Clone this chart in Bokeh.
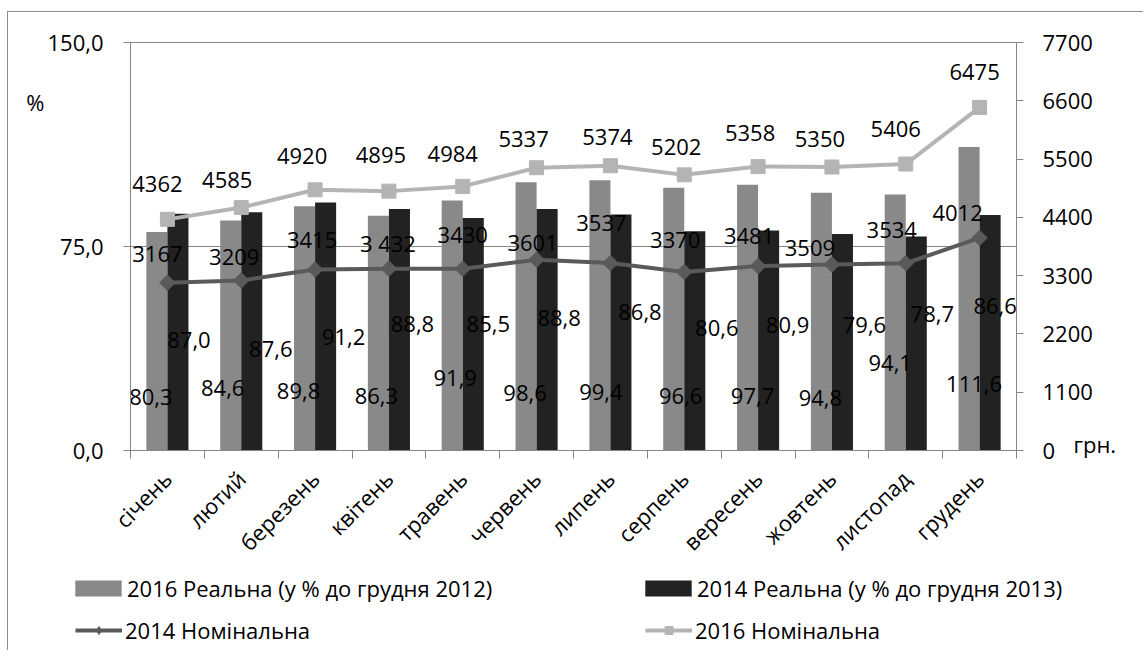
import numpy as np
from bokeh.plotting import figure
from bokeh.layouts import column
from bokeh.models import Range1d, LinearAxis, FixedTicker, Legend, LegendItem
from bokeh.core.properties import value
from bokeh.embed import file_html
from bokeh.resources import INLINE

# ---------------- data ----------------
months = ["січень", "лютий", "березень", "квітень", "травень", "червень",
          "липень", "серпень", "вересень", "жовтень", "листопад", "грудень"]
real_2016 = [80.3, 84.6, 89.8, 86.3, 91.9, 98.6, 99.4, 96.6, 97.7, 94.8, 94.1, 111.6]
real_2014 = [87.0, 87.6, 91.2, 88.8, 85.5, 88.8, 86.8, 80.6, 80.9, 79.6, 78.7, 86.6]
nom_2014 = [3167, 3209, 3415, 3432, 3430, 3601, 3537, 3370, 3481, 3509, 3534, 4012]
nom_2016 = [4362, 4585, 4920, 4895, 4984, 5337, 5374, 5202, 5358, 5350, 5406, 6475]
left_ticks = [0, 75, 150]
left_tick_labels = ["0,0", "75,0", "150,0"]
right_ticks = [0, 1100, 2200, 3300, 4400, 5500, 6600, 7700]
nom_2014_text = ["3167", "3209", "3415", "3 432", "3430", "3601", "3537", "3370", "3481", "3509", "3534", "4012"]
series_names = ["2016 Реальна (у % до грудня 2012)", "2014 Реальна (у % до грудня 2013)",
                "2014 Номінальна", "2016 Номінальна"]

# label placement offsets (screen px), as in the source chart
nom16_dx = [-10, -14, -13, -8, -10, -13, -3, -8, -8, -12, -10, -5]
nom16_dy = [-35, -28, -34, -36, -32, -29, -29, -28, -34, -28, -35, -35]
nom14_dx = [-10, -7, -3, -1, 0, -4, -9, -9, -9, -22, -14, -22]
nom14_dy = [-29, -23, -30, -26, -34, -17, -40, -32, -30, -17, -33, -25]
r16_dx = [-6, -8, -6, -2, 3, -1, 1, 7, 5, -1, -5, 5]
r16_dy = [-54, -63, -60, -55, -73, -58, -59, -55, -55, -53, -88, -67]
r14_dx = [11, 19, 18, 13, 15, 12, 19, 22, 19, 22, 16, 5]
r14_dy = [-111, -102, -114, -127, -127, -133, -139, -123, -126, -126, -137, -145]

FONT = "Open Sans"
FS = "22px"
AXC = "#868686"
GRAY_BAR = "#898989"
BLACK_BAR = "#222222"
LIGHT = "#b4b4b4"
DARK = "#5a5a5a"

n = len(months)
xc = np.arange(n, dtype=float)
bw = 0.285
off = 0.1425

p = figure(width=1135, height=558,
           x_range=Range1d(-0.5, n - 0.5), y_range=Range1d(0, 150),
           output_backend="svg", toolbar_location=None,
           min_border_left=122, min_border_right=127,
           min_border_top=30, min_border_bottom=120)
p.frame_align = False
p.extra_y_ranges = {"grn": Range1d(0, 7700)}
p.outline_line_color = AXC
p.background_fill_color = "white"
p.border_fill_color = "white"

# x axis
xa = p.xaxis[0]
xa.ticker = FixedTicker(ticks=list(range(n)), minor_ticks=[i - 0.5 for i in range(n + 1)])
xa.major_label_overrides = {i: m for i, m in enumerate(months)}
xa.major_label_orientation = np.pi / 4
xa.major_tick_out = 0
xa.major_tick_in = 0
xa.minor_tick_out = 8
xa.minor_tick_in = 0
xa.minor_tick_line_color = AXC
xa.axis_line_color = AXC
xa.major_label_text_font = FONT
xa.major_label_text_font_size = FS
xa.major_label_text_color = "black"
xa.major_label_standoff = 16

def style_axis(ax, standoff, tick_out=7):
    ax.minor_tick_line_color = None
    ax.major_tick_out = tick_out
    ax.major_tick_in = 0
    ax.major_tick_line_color = AXC
    ax.axis_line_color = AXC
    ax.major_label_text_font = FONT
    ax.major_label_text_font_size = FS
    ax.major_label_text_color = "black"
    ax.major_label_standoff = standoff

# left axis
ya = p.yaxis[0]
ya.ticker = FixedTicker(ticks=left_ticks)
ya.major_label_overrides = dict(zip(left_ticks, left_tick_labels))
style_axis(ya, 20)

# unit caption "%" as an outer left axis with a single label
pct_ax = LinearAxis(ticker=FixedTicker(ticks=[128.1]), major_label_overrides={128.1: "%"})
style_axis(pct_ax, 0, tick_out=0)
pct_ax.axis_line_color = None
pct_ax.major_tick_line_color = None
p.add_layout(pct_ax, "left")

# right axis
ra = LinearAxis(y_range_name="grn", ticker=FixedTicker(ticks=right_ticks))
style_axis(ra, 19)
p.add_layout(ra, "right")

# unit caption "грн." as an outer right axis with a single label
grn_ax = LinearAxis(y_range_name="grn", ticker=FixedTicker(ticks=[130]), major_label_overrides={130: "грн."})
style_axis(grn_ax, -22, tick_out=0)
grn_ax.axis_line_color = None
grn_ax.major_tick_line_color = None
p.add_layout(grn_ax, "right")

p.xgrid.visible = False
p.ygrid.ticker = FixedTicker(ticks=[75, 150])
p.ygrid.grid_line_color = AXC

# bars
p.vbar(x=xc - off, top=real_2016, width=bw, fill_color=GRAY_BAR, line_color=None)
p.vbar(x=xc + off, top=real_2014, width=bw, fill_color=BLACK_BAR, line_color=None)

# lines
p.line(xc, nom_2014, y_range_name="grn", line_width=4, line_color=DARK)
p.scatter(xc, nom_2014, y_range_name="grn", marker="square", angle=np.pi / 4,
          size=11, fill_color=DARK, line_color=DARK)
p.line(xc, nom_2016, y_range_name="grn", line_width=4, line_color=LIGHT)
p.scatter(xc, nom_2016, y_range_name="grn", marker="square", size=14,
          fill_color=LIGHT, line_color=LIGHT)

tkw = dict(text_align="center", text_baseline="middle", text_font=value(FONT),
           text_font_size=FS, text_color="black")

def fmt(v):
    return f"{v:.1f}".replace(".", ",")

p.text(x=xc - off, y=[0] * n, text=[fmt(v) for v in real_2016], x_offset=r16_dx, y_offset=r16_dy, **tkw)
p.text(x=xc + off, y=[0] * n, text=[fmt(v) for v in real_2014], x_offset=r14_dx, y_offset=r14_dy, **tkw)
p.text(x=xc, y=nom_2014, text=nom_2014_text, x_offset=nom14_dx, y_offset=nom14_dy, y_range_name="grn", **tkw)
p.text(x=xc, y=nom_2016, text=[str(v) for v in nom_2016], x_offset=nom16_dx, y_offset=nom16_dy, y_range_name="grn", **tkw)

# ---------------- legend strip (series drawn off-view; only their legend glyphs show) ----------------
lf = figure(width=1135, height=80, x_range=Range1d(-100, -99), y_range=Range1d(0, 1),
            output_backend="svg", toolbar_location=None, min_border=0,
            x_axis_location=None, y_axis_location=None)
lf.frame_align = False
lf.outline_line_color = None
lf.grid.visible = False
lf.border_fill_color = "white"
g16 = lf.vbar(x=xc, top=real_2016, width=bw, fill_color=GRAY_BAR, line_color=None)
g14 = lf.vbar(x=xc, top=real_2014, width=bw, fill_color=BLACK_BAR, line_color=None)
k14l = lf.line(xc, nom_2014, line_width=4, line_color=DARK)
k14m = lf.scatter(xc, nom_2014, marker="diamond", size=14, fill_color=DARK, line_color=DARK)
k16l = lf.line(xc, nom_2016, line_width=4, line_color=LIGHT)
k16m = lf.scatter(xc, nom_2016, marker="square", size=10, fill_color=LIGHT, line_color=LIGHT)

leg_specs = [
    ([g16], series_names[0], (61, 47), 58, 20, 0),
    ([g14], series_names[1], (631, 47), 58, 20, 0),
    ([k14l, k14m], series_names[2], (67, 5), 47, 20, 3),
    ([k16l, k16m], series_names[3], (637, 5), 47, 20, 3),
]
for rends, lbl, loc, gw, gh, so in leg_specs:
    lg = Legend(items=[LegendItem(label=lbl, renderers=rends)], location=loc,
                orientation="horizontal", padding=0, margin=0, border_line_color=None,
                background_fill_alpha=0, glyph_width=gw, glyph_height=gh,
                label_standoff=so, label_text_font=FONT, label_text_font_size=FS,
                label_text_color="black")
    lf.add_layout(lg)

layout = column(p, lf, spacing=0)
layout.styles = {"margin-left": "7px", "margin-top": "11px",
                 "border-left": "1px solid #8c8c8c", "border-top": "1px solid #8c8c8c"}

open("out.html", "w").write(file_html(layout, INLINE))
